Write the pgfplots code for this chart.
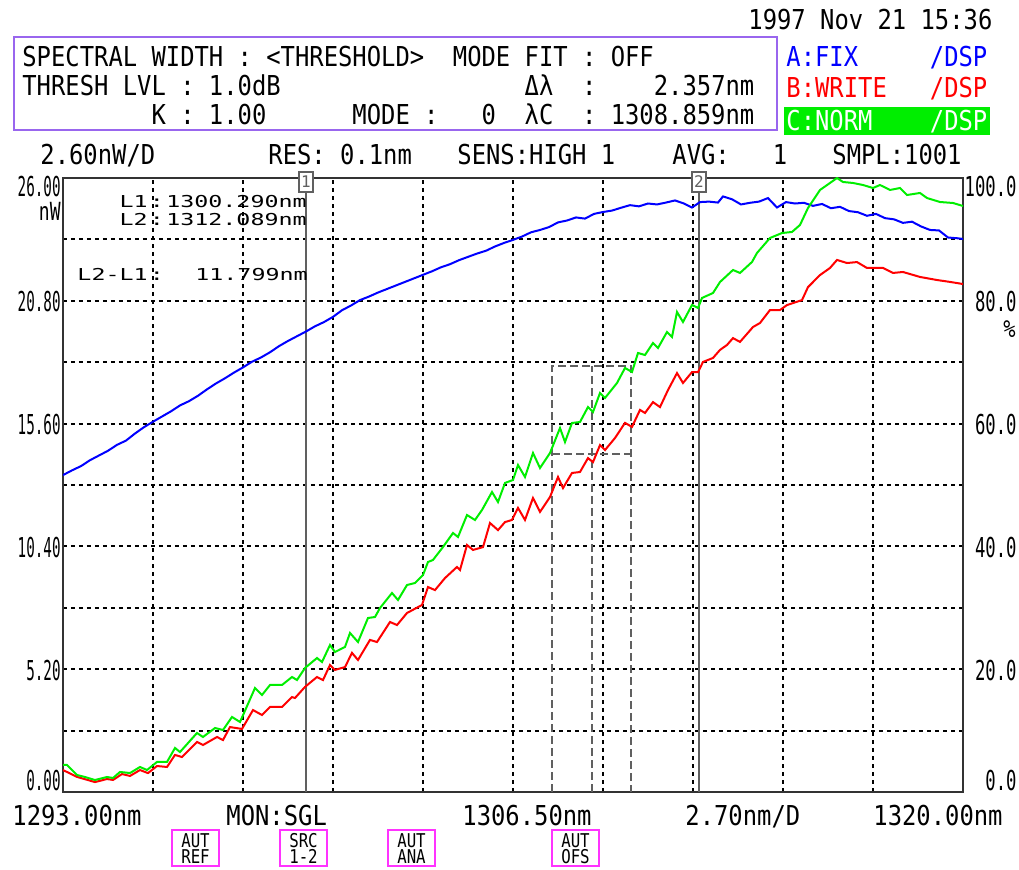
\documentclass[border=0pt]{standalone}
\usepackage{pgfplots}
\pgfplotsset{compat=1.18}
\usepackage{graphicx}
\usepackage{fontspec}
\setmainfont{DejaVu Sans Mono}
\definecolor{osagreen}{HTML}{00EE00}
\definecolor{osablue}{HTML}{0000FF}
\definecolor{osared}{HTML}{FF0000}
\definecolor{osapurple}{HTML}{9966EE}
\definecolor{osamag}{HTML}{FF33FF}
\definecolor{osagray}{HTML}{606060}
\newcommand{\hf}[1]{\scalebox{0.87}[1]{\fontsize{13.7pt}{16pt}\selectfont #1}}
\newcommand{\lf}[1]{\scalebox{0.52}[1]{\fontsize{13.7pt}{16pt}\selectfont #1}}
\newcommand{\rf}[1]{\scalebox{0.63}[1]{\fontsize{13.7pt}{16pt}\selectfont #1}}
\newcommand{\mf}[1]{\scalebox{1.42}[1]{\fontsize{8.2pt}{9pt}\selectfont #1}}
\newcommand{\bfn}[1]{\scalebox{0.83}[1]{\fontsize{9.5pt}{10pt}\selectfont #1}}
\begin{document}
\begin{tikzpicture}
\useasboundingbox (0,0) rectangle (509.5pt,434.5pt);
\begin{axis}[at={(31.5pt,38.5pt)}, anchor=south west, scale only axis,
  width=450pt, height=307pt,
  xmin=1293, xmax=1320, ymin=0, ymax=26,
  xtick={1295.7,1298.4,1301.1,1303.8,1306.5,1309.2,1311.9,1314.6,1317.3},
  ytick={2.6,5.2,7.8,10.4,13.0,15.6,18.2,20.8,23.4},
  xticklabels={}, yticklabels={}, major tick length=0pt,
  grid=major, major grid style={black, line width=1pt, dash pattern=on 2pt off 2pt},
  axis line style={black!80, line width=1pt}]
\draw[osagray, line width=1pt] (axis cs:1300.29,0) -- (axis cs:1300.29,26);
\draw[osagray, line width=1pt] (axis cs:1312.089,0) -- (axis cs:1312.089,26);
\draw[osagray, line width=0.9pt, dash pattern=on 4pt off 2pt] (axis cs:1307.681,0) -- (axis cs:1307.681,18.04) -- (axis cs:1310.038,18.04) -- (axis cs:1310.038,0);
\draw[osagray, line width=0.9pt, dash pattern=on 4pt off 2pt] (axis cs:1308.859,0) -- (axis cs:1308.859,18.04);
\draw[osagray, line width=0.9pt, dash pattern=on 4pt off 2pt] (axis cs:1307.681,14.31) -- (axis cs:1310.038,14.31);
% A: FIX (blue)
\addplot[osablue, line width=1pt, mark=none] coordinates {
(1293.00,13.42)(1293.27,13.62)(1293.54,13.80)(1293.81,14.05)(1294.08,14.25)(1294.35,14.45)(1294.62,14.70)(1294.89,14.88)(1295.16,15.18)(1295.43,15.45)(1295.70,15.68)(1295.97,15.90)(1296.24,16.12)(1296.51,16.37)(1296.78,16.55)(1297.05,16.78)(1297.32,17.05)(1297.59,17.30)(1297.86,17.52)(1298.13,17.76)(1298.40,17.98)(1298.67,18.22)(1298.94,18.40)(1299.21,18.62)(1299.48,18.88)(1299.75,19.10)(1300.02,19.30)(1300.29,19.50)(1300.56,19.72)(1300.83,19.90)(1301.10,20.12)(1301.37,20.40)(1301.64,20.60)(1301.91,20.83)(1302.18,20.98)(1302.45,21.15)(1302.72,21.30)(1302.99,21.45)(1303.26,21.60)(1303.53,21.75)(1303.80,21.90)(1304.07,22.05)(1304.34,22.22)(1304.61,22.35)(1304.88,22.52)(1305.15,22.66)(1305.42,22.80)(1305.69,22.92)(1305.96,23.10)(1306.23,23.25)(1306.50,23.38)(1306.77,23.52)(1307.04,23.70)(1307.31,23.80)(1307.58,23.92)(1307.85,24.12)(1308.12,24.20)(1308.39,24.33)(1308.66,24.28)(1308.93,24.48)(1309.20,24.56)(1309.47,24.62)(1309.74,24.74)(1310.01,24.85)(1310.28,24.80)(1310.55,24.92)(1310.82,24.88)(1311.09,24.96)(1311.36,25.05)(1311.63,24.92)(1311.87,24.75)(1312.11,24.98)(1312.38,25.00)(1312.65,24.96)(1312.80,25.22)(1313.07,25.10)(1313.34,24.88)(1313.61,24.95)(1313.88,25.00)(1314.15,25.15)(1314.42,24.75)(1314.69,24.98)(1314.96,24.92)(1315.23,24.95)(1315.50,24.82)(1315.77,24.90)(1316.04,24.72)(1316.31,24.78)(1316.58,24.60)(1316.85,24.55)(1317.12,24.40)(1317.39,24.48)(1317.66,24.30)(1317.93,24.25)(1318.20,24.10)(1318.47,24.15)(1318.74,23.95)(1319.01,23.80)(1319.28,23.78)(1319.55,23.48)(1319.82,23.45)(1320.00,23.42)
};
% B: WRITE (red)
\addplot[osared, line width=1pt, mark=none] coordinates {
(1293.00,0.93)(1293.42,0.64)(1293.96,0.42)(1294.32,0.55)(1294.50,0.51)(1294.77,0.76)(1295.01,0.68)(1295.31,0.93)(1295.55,0.80)(1295.82,1.10)(1296.12,1.06)(1296.36,1.57)(1296.57,1.48)(1297.02,2.12)(1297.20,1.99)(1297.62,2.33)(1297.80,2.20)(1298.01,2.75)(1298.37,2.67)(1298.70,3.47)(1298.97,3.26)(1299.21,3.60)(1299.57,3.60)(1299.87,4.02)(1299.96,3.98)(1300.26,4.45)(1300.62,4.87)(1300.80,4.74)(1301.01,5.38)(1301.16,5.17)(1301.46,5.29)(1301.67,5.89)(1301.85,5.59)(1302.21,6.44)(1302.42,6.35)(1302.81,7.20)(1303.02,7.07)(1303.32,7.58)(1303.77,7.92)(1303.95,8.68)(1304.16,8.55)(1304.46,9.06)(1304.82,9.53)(1304.91,9.40)(1305.12,10.46)(1305.30,10.25)(1305.60,10.37)(1305.81,11.39)(1306.05,11.09)(1306.26,11.43)(1306.47,11.52)(1306.65,12.03)(1306.86,11.52)(1307.10,12.45)(1307.31,11.86)(1307.61,12.49)(1307.85,13.34)(1308.00,12.87)(1308.27,13.51)(1308.51,13.55)(1308.75,14.14)(1308.90,13.97)(1309.11,14.69)(1309.26,14.48)(1309.56,14.99)(1309.86,15.63)(1310.07,15.46)(1310.31,16.18)(1310.46,16.05)(1310.70,16.51)(1310.91,16.30)(1311.15,17.02)(1311.42,17.74)(1311.60,17.32)(1311.87,17.78)(1312.05,17.78)(1312.20,18.21)(1312.50,18.38)(1312.71,18.72)(1312.92,18.93)(1313.10,19.22)(1313.31,19.06)(1313.70,19.69)(1313.91,19.86)(1314.21,20.41)(1314.51,20.41)(1314.72,20.62)(1315.17,20.83)(1315.35,21.38)(1315.71,21.89)(1316.01,22.19)(1316.22,22.53)(1316.52,22.40)(1316.82,22.44)(1317.12,22.19)(1317.30,22.19)(1317.60,22.19)(1317.90,21.98)(1318.20,22.02)(1318.71,21.81)(1319.22,21.68)(1319.61,21.60)(1320.00,21.51)
};
\end{axis}
\begin{axis}[at={(31.5pt,38.5pt)}, anchor=south west, scale only axis,
  width=450pt, height=307pt, xmin=1293, xmax=1320, ymin=0, ymax=100, hide axis]
% C: NORM (green, percent)
\addplot[osagreen, line width=1pt, mark=none] coordinates {
(1293.00,4.40)(1293.12,4.40)(1293.42,2.77)(1293.66,2.44)(1293.96,1.95)(1294.32,2.44)(1294.50,2.28)(1294.71,3.26)(1295.01,3.09)(1295.31,4.07)(1295.52,3.58)(1295.82,4.89)(1296.12,4.89)(1296.36,7.17)(1296.51,6.51)(1297.02,9.61)(1297.20,8.96)(1297.56,10.42)(1297.80,10.10)(1298.07,12.22)(1298.31,11.40)(1298.43,12.87)(1298.76,16.94)(1298.97,15.80)(1299.21,17.43)(1299.57,17.43)(1299.87,18.73)(1300.02,18.24)(1300.26,20.20)(1300.62,21.82)(1300.77,21.17)(1301.01,23.94)(1301.16,22.80)(1301.46,23.62)(1301.61,25.90)(1301.85,24.43)(1302.15,28.34)(1302.36,28.50)(1302.51,29.97)(1302.87,32.41)(1303.05,31.27)(1303.32,33.71)(1303.56,34.04)(1303.80,35.34)(1303.95,37.46)(1304.10,37.79)(1304.40,39.90)(1304.70,42.18)(1304.85,41.53)(1305.12,45.11)(1305.36,44.30)(1305.57,45.93)(1305.87,48.86)(1306.05,47.23)(1306.26,50.33)(1306.50,50.82)(1306.65,53.26)(1306.86,51.30)(1307.10,55.21)(1307.31,52.77)(1307.61,55.21)(1307.91,59.28)(1308.06,57.00)(1308.27,60.10)(1308.51,60.26)(1308.75,62.70)(1308.90,61.89)(1309.11,64.99)(1309.26,64.17)(1309.62,66.61)(1309.86,69.06)(1310.07,68.41)(1310.25,71.50)(1310.46,71.17)(1310.70,73.13)(1310.85,72.31)(1311.12,74.92)(1311.27,74.11)(1311.42,78.18)(1311.60,76.55)(1311.87,79.32)(1312.05,78.83)(1312.17,80.46)(1312.50,81.27)(1312.71,83.06)(1313.10,85.02)(1313.31,84.53)(1313.67,86.32)(1313.82,87.79)(1314.21,90.23)(1314.57,91.04)(1314.87,91.21)(1315.11,92.35)(1315.35,95.12)(1315.71,98.05)(1316.01,99.19)(1316.22,100.00)(1316.40,99.35)(1316.70,99.19)(1317.00,98.86)(1317.30,98.37)(1317.51,98.86)(1317.81,98.05)(1318.11,98.37)(1318.32,97.23)(1318.71,97.56)(1318.92,96.74)(1319.31,96.09)(1319.70,95.93)(1320.00,95.44)
};
\end{axis}
\begin{scope}[x=0.5pt, y=-0.5pt, shift={(0,434.5pt)}]
% header
\node[anchor=base west, inner sep=0] at (748,30) {\hf{1997~Nov~21~15:36}};
\draw[osapurple, line width=1pt] (14,37) rectangle (777,130);
\node[anchor=base west, inner sep=0] at (22,67) {\hf{SPECTRAL~WIDTH~:~<THRESHOLD>~~MODE~FIT~:~OFF}};
\node[anchor=base west, inner sep=0] at (22,96) {\hf{THRESH~LVL~:~1.0dB~~~~~~~~~~~~~~~~~Δλ~~:~~~~2.357nm}};
\node[anchor=base west, inner sep=0] at (22,125) {\hf{~~~~~~~~~K~:~1.00~~~~~~MODE~:~~~0~~λC~~:~1308.859nm}};
\node[anchor=base west, inner sep=0, text=osablue] at (786,67) {\hf{A:FIX~~~~~/DSP}};
\node[anchor=base west, inner sep=0, text=osared] at (786,98) {\hf{B:WRITE~~~/DSP}};
\fill[osagreen] (784,107) rectangle (990,135);
\node[anchor=base west, inner sep=0, text=white] at (786,131) {\hf{C:NORM~~~~/DSP}};
\node[anchor=base west, inner sep=0] at (40,165) {\hf{2.60nW/D}};
\node[anchor=base west, inner sep=0] at (268,165) {\hf{RES:~0.1nm}};
\node[anchor=base west, inner sep=0] at (457,165) {\hf{SENS:HIGH~1}};
\node[anchor=base west, inner sep=0] at (672,165) {\hf{AVG:~~~1}};
\node[anchor=base west, inner sep=0] at (832,165) {\hf{SMPL:1001}};
% left labels
\node[anchor=base east, inner sep=0] at (61,197) {\lf{26.00}};
\node[anchor=base east, inner sep=0] at (61,221) {\scalebox{0.72}[1]{\fontsize{12.5pt}{14pt}\selectfont nW}};
\node[anchor=base east, inner sep=0] at (61,312) {\lf{20.80}};
\node[anchor=base east, inner sep=0] at (61,435) {\lf{15.60}};
\node[anchor=base east, inner sep=0] at (61,558) {\lf{10.40}};
\node[anchor=base east, inner sep=0] at (61,681) {\lf{5.20}};
\node[anchor=base east, inner sep=0] at (61,791) {\lf{0.00}};
% right labels
\node[anchor=base east, inner sep=0] at (1017,197) {\rf{100.0}};
\node[anchor=base east, inner sep=0] at (1017,312) {\rf{80.0}};
\node[anchor=base east, inner sep=0] at (1016,338) {\scalebox{0.85}[1]{\fontsize{12pt}{14pt}\selectfont \%}};
\node[anchor=base east, inner sep=0] at (1017,435) {\rf{60.0}};
\node[anchor=base east, inner sep=0] at (1017,558) {\rf{40.0}};
\node[anchor=base east, inner sep=0] at (1017,681) {\rf{20.0}};
\node[anchor=base east, inner sep=0] at (1017,791) {\rf{0.0}};
% bottom labels
\node[anchor=base west, inner sep=0] at (12,825) {\hf{1293.00nm}};
\node[anchor=base west, inner sep=0] at (226,825) {\hf{MON:SGL}};
\node[anchor=base west, inner sep=0] at (462,825) {\hf{1306.50nm}};
\node[anchor=base west, inner sep=0] at (685,825) {\hf{2.70nm/D}};
\node[anchor=base west, inner sep=0] at (873,825) {\hf{1320.00nm}};
% buttons
\foreach \cx/\ta/\tb in {195.5/AUT/REF, 303.5/SRC/1-2, 411.5/AUT/ANA, 575.5/AUT/OFS}{
  \draw[osamag, line width=1pt, fill=white] (\cx-23.5,830) rectangle (\cx+23.5,866);
  \node[anchor=base, inner sep=0] at (\cx,847) {\bfn{\ta}};
  \node[anchor=base, inner sep=0] at (\cx,863) {\bfn{\tb}};
}
% marker labels
\node[draw=osagray, fill=white, line width=0.7pt, inner sep=0, minimum width=7pt, minimum height=10pt, text=osagray] at (306,182) {\fontsize{8pt}{9pt}\selectfont 1};
\node[draw=osagray, fill=white, line width=0.7pt, inner sep=0, minimum width=7pt, minimum height=10pt, text=osagray] at (699,182) {\fontsize{8pt}{9pt}\selectfont 2};
\node[anchor=base east, inner sep=0] at (148,208) {\mf{L1}};
\node[anchor=base, inner sep=0] at (157,208) {\mf{:}};
\node[anchor=base west, inner sep=0] at (166,208) {\mf{1300.290nm}};
\node[anchor=base east, inner sep=0] at (148,226) {\mf{L2}};
\node[anchor=base, inner sep=0] at (157,226) {\mf{:}};
\node[anchor=base west, inner sep=0] at (166,226) {\mf{1312.089nm}};
\node[anchor=base east, inner sep=0] at (148,281) {\mf{L2-L1}};
\node[anchor=base, inner sep=0] at (157,281) {\mf{:}};
\node[anchor=base east, inner sep=0] at (308,281) {\mf{11.799nm}};
\end{scope}
\end{tikzpicture}
\end{document}
